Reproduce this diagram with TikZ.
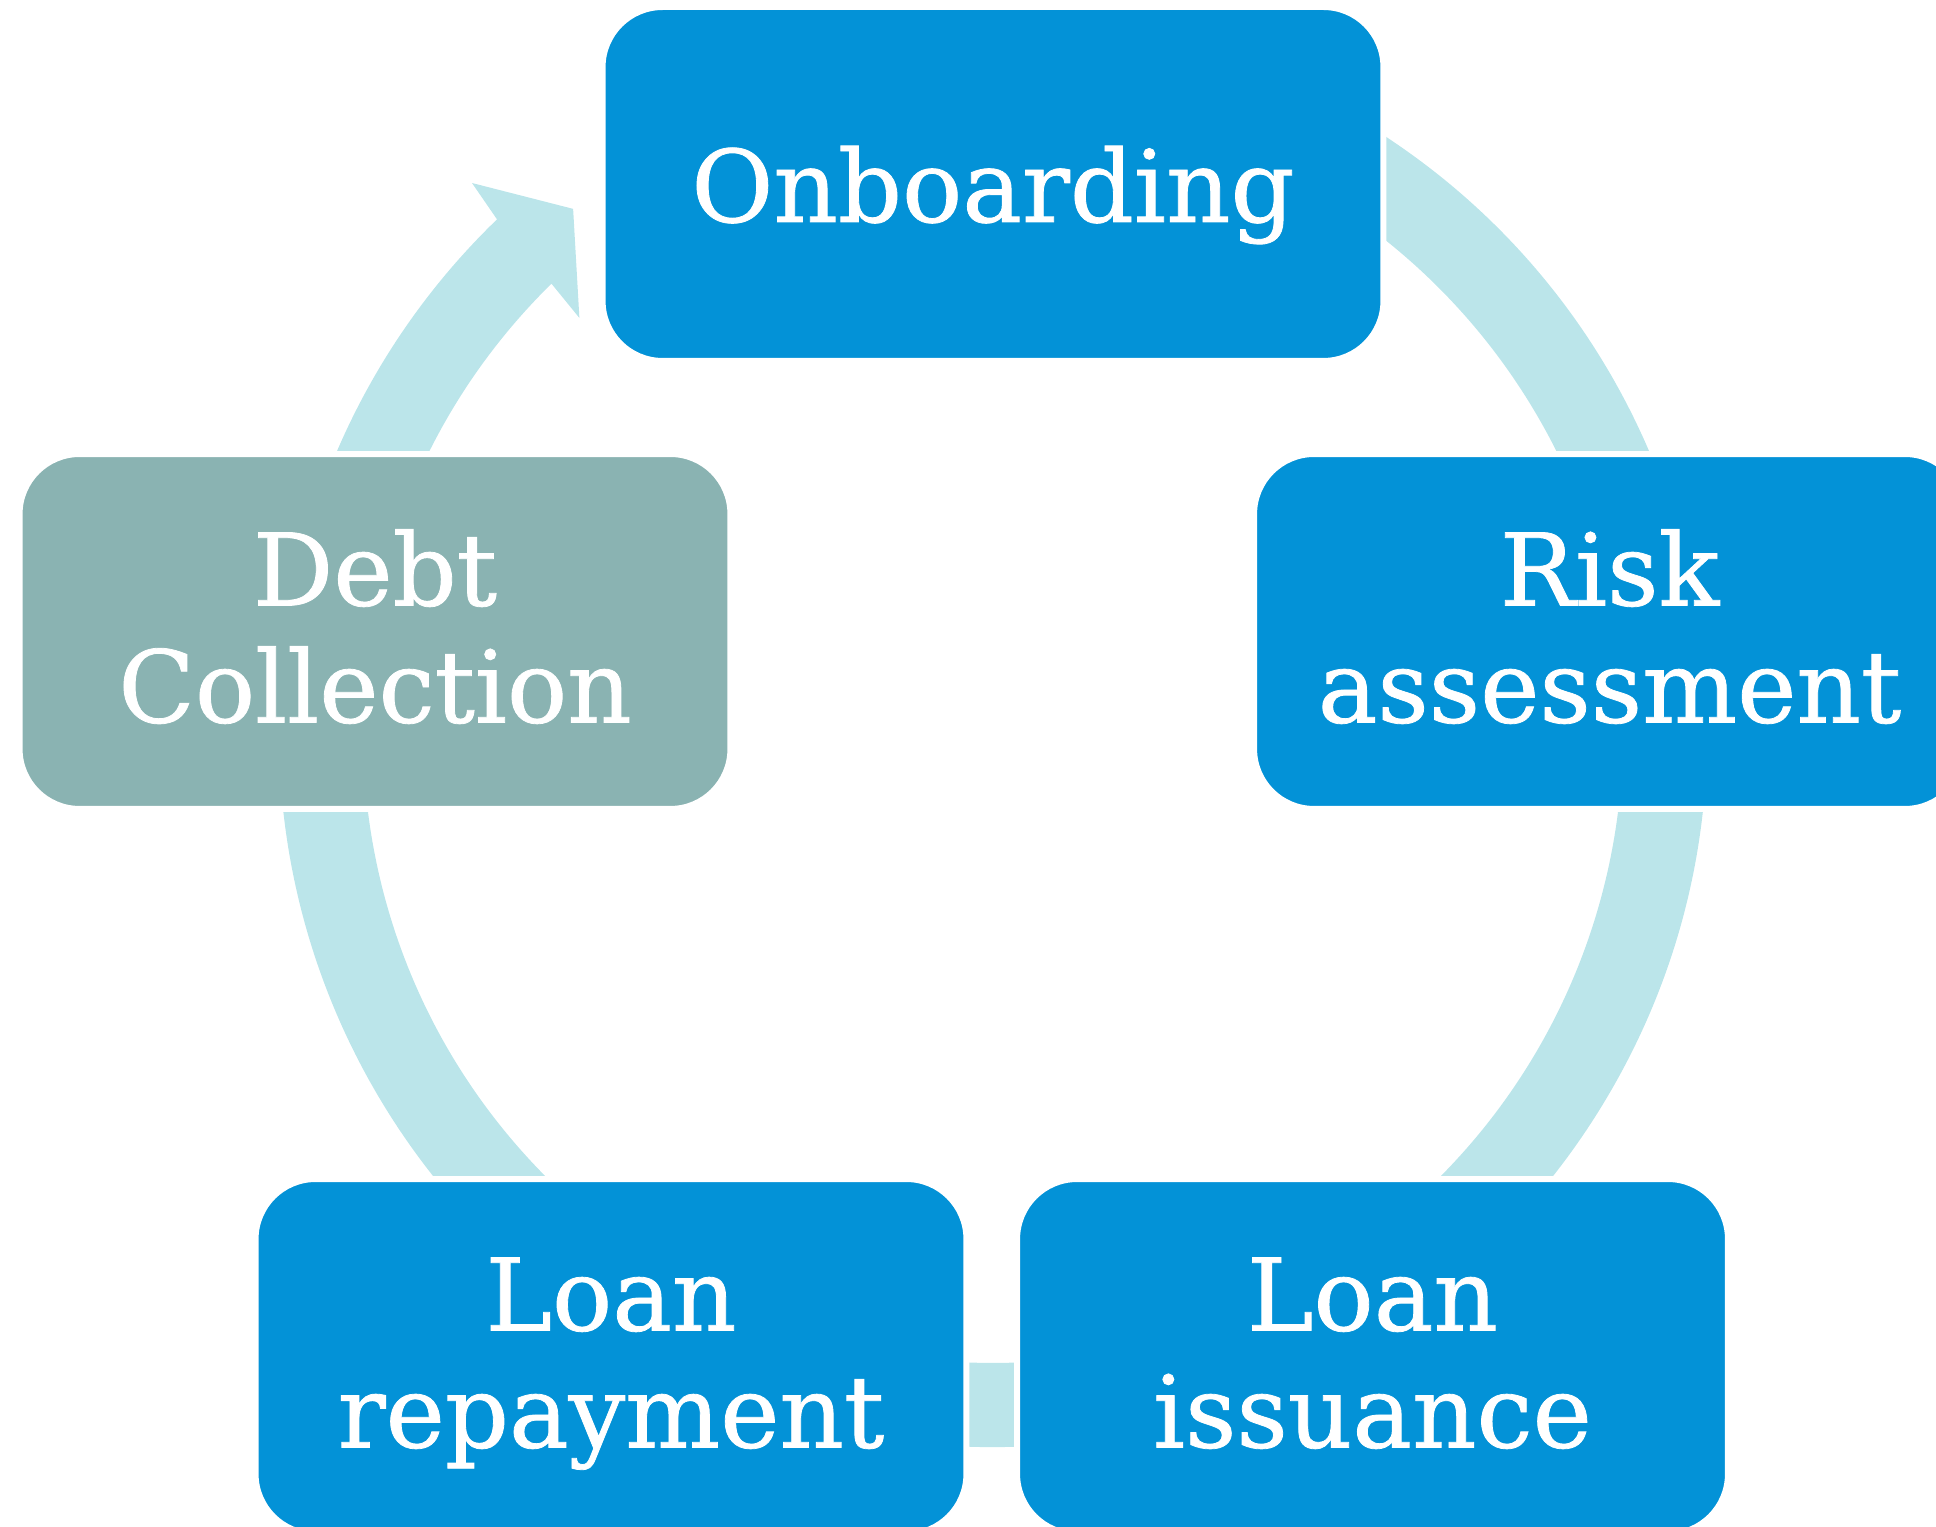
\documentclass[tikz,border=0pt]{standalone}
\usepackage{fontspec}
\setmainfont{DejaVu Serif}
\newfontfamily\stagefont{DejaVu Serif}[FakeBold=0.8]
\usetikzlibrary{calc}
\definecolor{stepblue}{RGB}{3,146,215}
\definecolor{stepgray}{RGB}{138,179,178}
\definecolor{ringblue}{RGB}{187,229,234}
\begin{document}
\begin{tikzpicture}[x=0.02cm, y=0.02cm,
  stage/.style={rectangle, rounded corners=1.2cm, draw=white, line width=3.4pt,
    inner sep=0pt, minimum width=14.22cm, minimum height=7.1cm},
  stagetext/.style={anchor=base, inner sep=0pt, text=white,
    font=\stagefont\fontsize{57}{67}\selectfont}]
\useasboundingbox (0,0) rectangle (1936,1527);
\clip (0,0) rectangle (1936,1527);

% circular arrow behind the stages
\begin{scope}[shift={(993,794)}]
  \fill[ringblue] (60:714) arc[start angle=60, end angle=-226, radius=714]
    -- (133.45:757.6) -- (128.7:671.6) -- (134.9:586) -- (134.5:630)
    arc[start angle=134.5, end angle=420, radius=630] -- cycle;
\end{scope}

% stages
\node[stage, fill=stepblue, minimum width=15.62cm, minimum height=7.08cm] (onb) at (993,1343) {};
\node[stage, fill=stepblue] (risk) at (1609.5,895.5) {};
\node[stage, fill=stepblue] (iss) at (1372.5,170.5) {};
\node[stage, fill=stepblue] (rep) at (611,170.5) {};
\node[stage, fill=stepgray] (debt) at (375,895.5) {};

% labels
\node[stagetext] (onb-t) at ($(onb.center)+(0,-38)$) {Onboarding};
\node[stagetext] (risk-t1) at ($(risk.center)+(0,26)$) {Risk};
\node[stagetext] (risk-t2) at ($(risk.center)+(0,-91)$) {assessment};
\node[stagetext] (iss-t1) at ($(iss.center)+(0,26)$) {Loan};
\node[stagetext] (iss-t2) at ($(iss.center)+(0,-91)$) {issuance};
\node[stagetext] (rep-t1) at ($(rep.center)+(0,26)$) {Loan};
\node[stagetext] (rep-t2) at ($(rep.center)+(0,-91)$) {repayment};
\node[stagetext] (debt-t1) at ($(debt.center)+(0,26)$) {Debt};
\node[stagetext] (debt-t2) at ($(debt.center)+(0,-91)$) {Collection};
\end{tikzpicture}
\end{document}
